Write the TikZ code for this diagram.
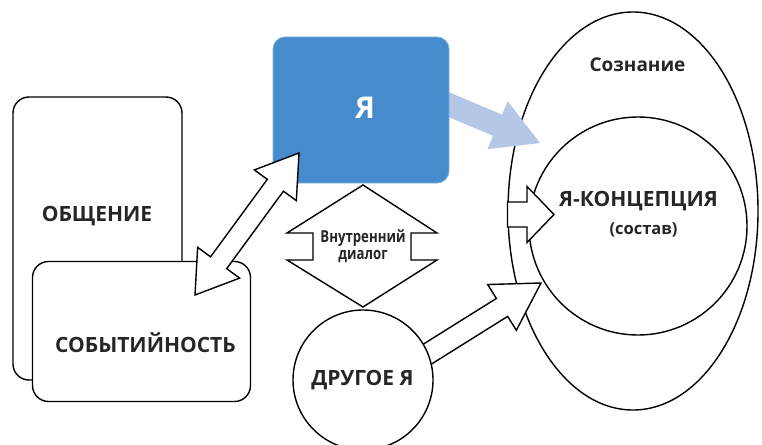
\documentclass[tikz,border=0pt]{standalone}
\usepackage{fontspec}
\setmainfont{Open Sans}
\newfontfamily\condfont[FakeStretch=0.8]{Open Sans}
\usetikzlibrary{calc,shapes.geometric}
\definecolor{boxblue}{RGB}{70,140,204}
\definecolor{arrblue}{RGB}{180,199,231}
\tikzset{
  outl/.style={draw=black, line width=1.4pt, fill=white},
  fatarr/.style={draw=black, line width=1.4pt, fill=white, line join=miter},
  lbl/.style={font=\fontsize{21}{24}\selectfont\bfseries, text=black!85, inner sep=0pt},
}
\newcommand{\FatArrow}[6]{%
  \coordinate (fa-b) at ($(#3)!#6!(#2)$);
  \path[#1] ($(#2)!#4!90:(#3)$) -- ($(fa-b)!#4!90:(#3)$) -- ($(fa-b)!#5!90:(#3)$) -- (#3)
     -- ($(fa-b)!#5!-90:(#3)$) -- ($(fa-b)!#4!-90:(#3)$) -- ($(#2)!#4!-90:(#3)$) -- cycle;
}
\newcommand{\FatDArrow}[6]{%
  \coordinate (fa-a) at ($(#2)!#6!(#3)$);
  \coordinate (fa-b) at ($(#3)!#6!(#2)$);
  \path[#1] (#2) -- ($(fa-a)!#5!90:(#3)$) -- ($(fa-a)!#4!90:(#3)$) -- ($(fa-b)!#4!90:(#3)$)
     -- ($(fa-b)!#5!90:(#3)$) -- (#3) -- ($(fa-b)!#5!-90:(#3)$) -- ($(fa-b)!#4!-90:(#3)$)
     -- ($(fa-a)!#4!-90:(#3)$) -- ($(fa-a)!#5!-90:(#3)$) -- cycle;
}
\begin{document}
\begin{tikzpicture}[x=1pt,y=-1pt]
\useasboundingbox (0,0) rectangle (762,444);
% left boxes
\node[outl, rounded corners=16pt, minimum width=169pt, minimum height=283pt, inner sep=0pt] (obsh) at (97.5,238.5) {};
\node[outl, rounded corners=16pt, minimum width=218pt, minimum height=140pt, inner sep=0pt] (sob) at (141.5,331.5) {};
% consciousness
\node[outl, ellipse, minimum width=250pt, minimum height=398pt, inner sep=0pt] (soz) at (633,211) {};
\node[outl, circle, minimum size=218pt, inner sep=0pt] (konc) at (638,226) {};
% blue arrow and I box
\coordinate (bStart) at (440,101);
\coordinate (bTip) at (540,143);
\FatArrow{fill=arrblue}{bStart}{bTip}{11.5pt}{26pt}{46pt}
\node[fill=boxblue, draw=boxblue!70!white, line width=0.8pt, rounded corners=12pt, minimum width=176pt, minimum height=146pt, inner sep=0pt] (ya) at (361,110) {};
% double arrow
\coordinate (dTop) at (299,153);
\coordinate (dBot) at (195,295);
\FatDArrow{fatarr}{dBot}{dTop}{10pt}{26pt}{40pt}
% inner dialog shape
\draw[fatarr] (363,185) coordinate (dlgT) -- (287,233) -- (313,233) -- (313,260) -- (287,260)
  -- (363,307) coordinate (dlgB) -- (437,260) -- (411,260) -- (411,233) -- (437,233) -- cycle;
% arrow from other I
\coordinate (oStart) at (414,362.5);
\coordinate (oTip) at (541,283);
\FatArrow{fatarr}{oStart}{oTip}{10.6pt}{27pt}{46pt}
\node[outl, circle, minimum size=140pt, inner sep=0pt] (drug) at (363,380) {};
% horizontal arrow into concept
\coordinate (hStart) at (507.5,214.5);
\coordinate (hTip) at (554,214.5);
\FatArrow{fatarr}{hStart}{hTip}{12.5pt}{28pt}{27pt}
% texts
\node[lbl] (tObsh) at (97,216.5) {ОБЩЕНИЕ};
\node[lbl] (tSob) at (145.5,343) {СОБЫТИЙНОСТЬ};
\node[lbl] (tDrug) at (362.5,380) {ДРУГОЕ Я};
\node[lbl] (tKonc) at (638.5,201) {Я-КОНЦЕПЦИЯ};
\node[font=\fontsize{16.5}{19}\selectfont\bfseries, text=black!85, inner sep=0pt] (tSost) at (643.5,230) {(состав)};
\node[font=\fontsize{19}{22}\selectfont\bfseries, text=black!85, inner sep=0pt] (tSoz) at (637.5,65) {Сознание};
\node[font=\fontsize{30}{34}\selectfont\bfseries, text=white, inner sep=0pt] (tYa) at (365,108) {Я};
\node[font=\condfont\fontsize{16.5}{18}\selectfont\bfseries, text=black!85, inner sep=0pt, align=center] (tDlg) at (363,246) {Внутренний\\[-1pt]диалог};
\end{tikzpicture}
\end{document}
